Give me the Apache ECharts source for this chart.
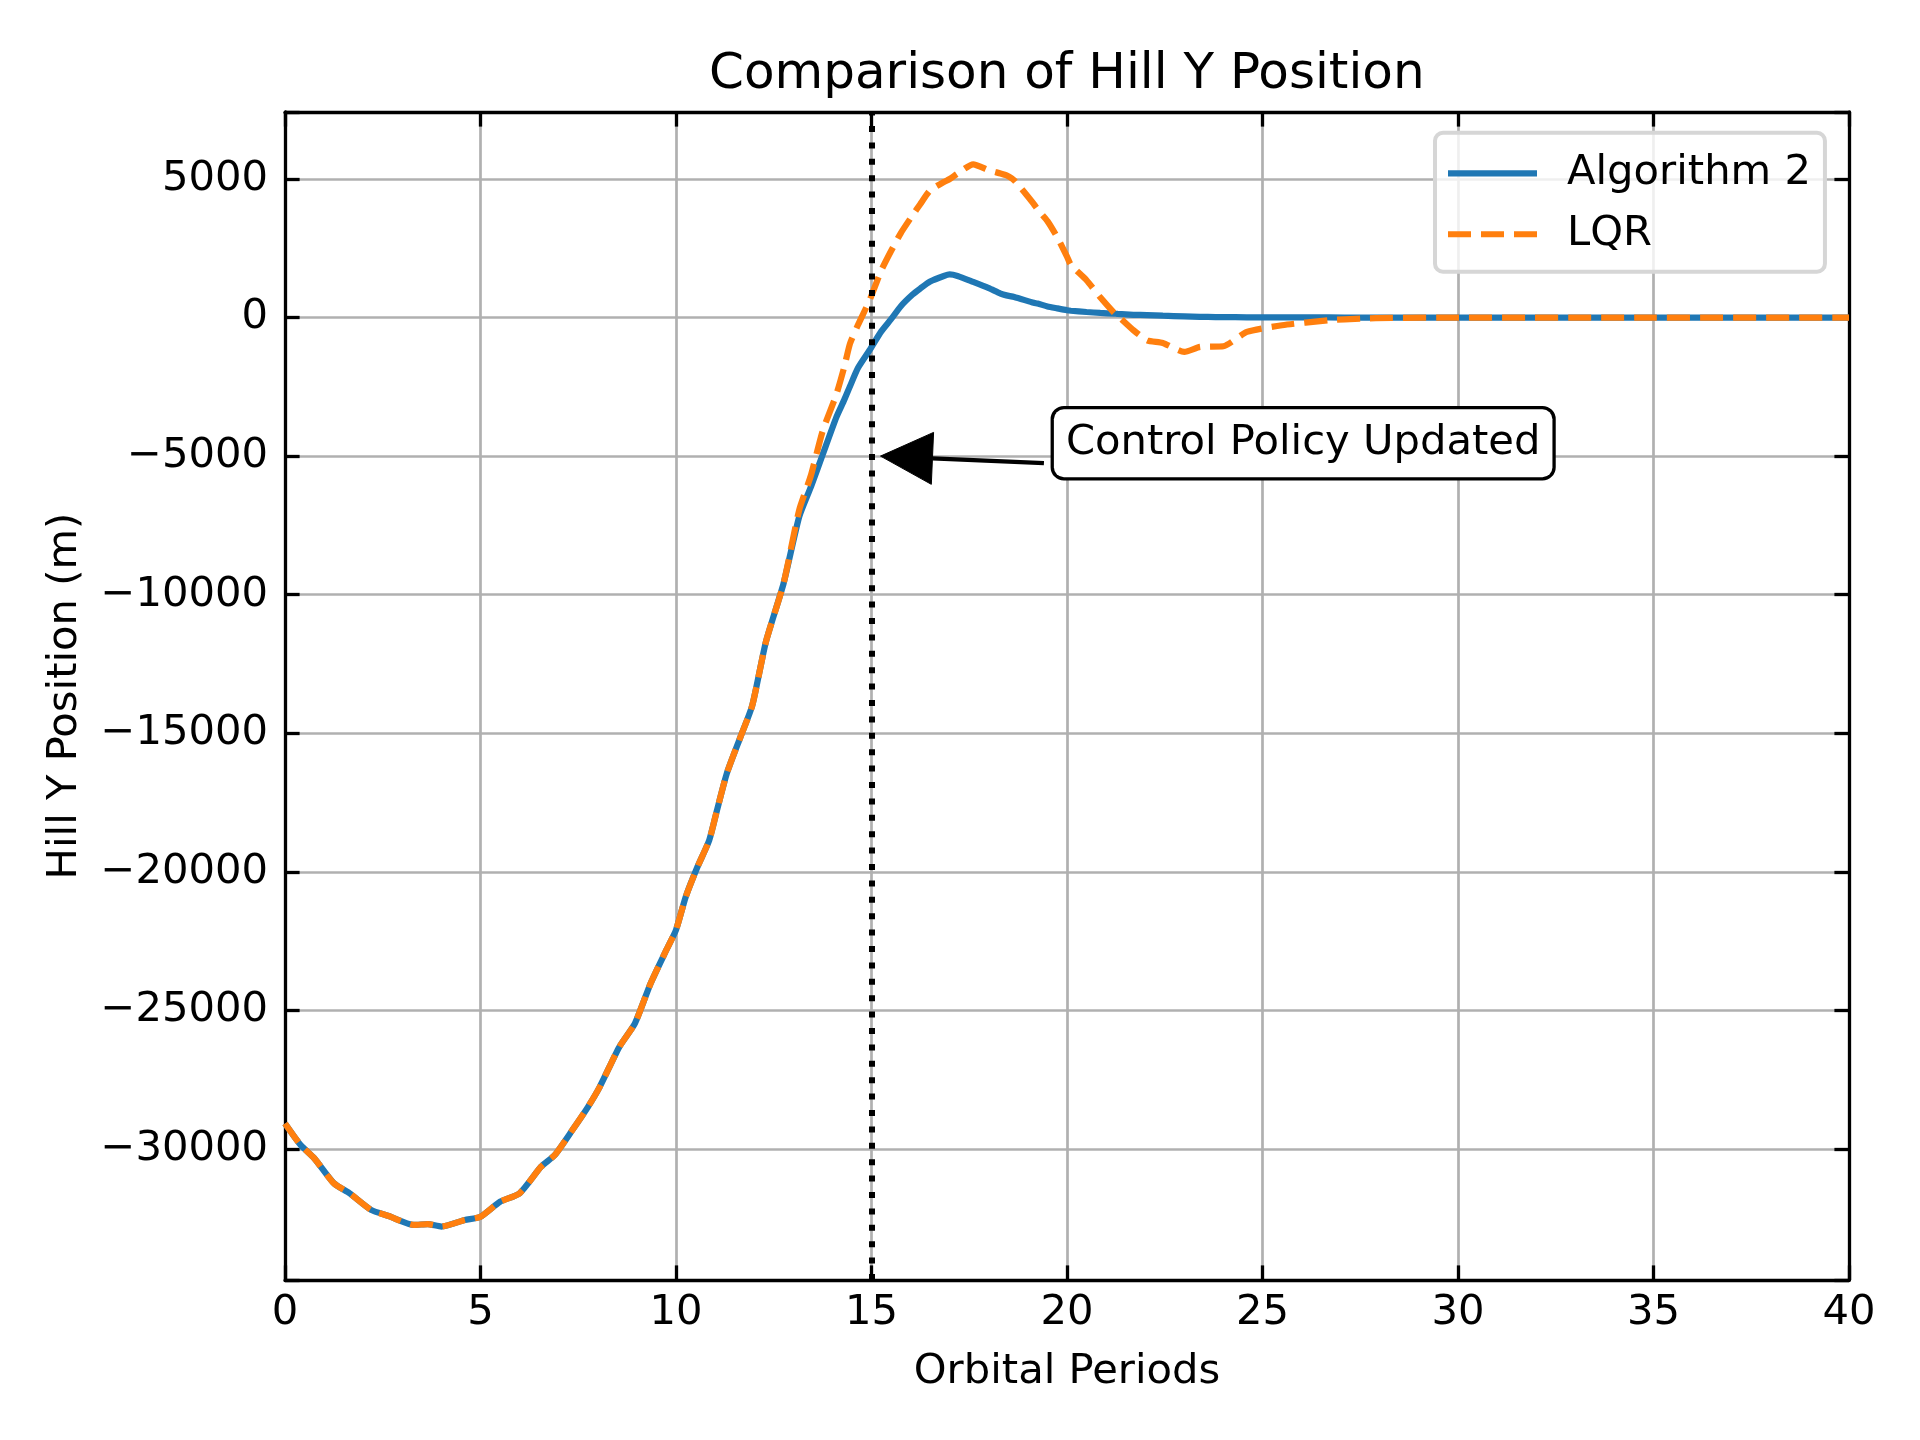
<!DOCTYPE html>
<html>
<head>
<meta charset="utf-8">
<script src="https://cdn.jsdelivr.net/npm/echarts@6/dist/echarts.min.js"></script>
<style>
  html, body { margin: 0; padding: 0; background: #fff; }
  #chart { width: 1920px; height: 1440px; }
</style>
</head>
<body>
<div id="chart"></div>
<script>
// orbital periods (x) shared by both runs
var periods = [0, 0.4, 0.75, 1.25, 1.65, 2.2, 2.65, 3.3, 3.65, 4.0,
  4.6, 5.0, 5.5, 6.0, 6.55, 6.9, 7.35, 7.75, 8.05, 8.55,
  8.95, 9.35, 9.75, 10.0, 10.25, 10.55, 10.85, 11.05, 11.3, 11.65,
  11.95, 12.3, 12.75, 13.15, 13.45, 13.75, 14.1, 14.3, 14.45, 14.65,
  14.95, 15.25, 15.5, 15.75, 16.05, 16.25, 16.5, 16.85, 17.0, 17.2,
  17.6, 18.0, 18.3, 18.45, 18.65, 19.15, 19.25, 19.5, 19.75, 20.0,
  20.1, 20.5, 20.85, 21.2, 21.3, 21.7, 22.05, 22.45, 23.0, 23.4,
  23.6, 24.0, 24.6, 25.5, 26.7, 27.5, 28.3, 30, 35, 40];

var alg2Y = [-29080, -29860, -30340, -31240, -31600, -32200, -32420, -32745, -32710, -32800,
  -32565, -32445, -31905, -31600, -30640, -30220, -29320, -28480, -27760, -26320,
  -25470, -24030, -22830, -22100, -20900, -19820, -18860, -17770, -16450, -15130,
  -14000, -11700, -9600, -7190, -6110, -4950, -3600, -2980, -2480, -1830,
  -1180, -500, -60, 410, 830, 1050, 1300, 1500, 1555, 1500,
  1284, 1060, 866, 800, 743, 530, 505, 400, 330, 263,
  245, 200, 165, 144, 130, 100, 85, 65, 40, 22,
  20, 15, 10, 5, 2, 0, 0, 0, 0, 0];

var lqrY = [-29080, -29860, -30340, -31240, -31600, -32200, -32420, -32745, -32710, -32800,
  -32565, -32445, -31905, -31600, -30640, -30220, -29320, -28480, -27760, -26320,
  -25470, -24030, -22830, -22100, -20900, -19820, -18860, -17770, -16450, -15130,
  -14000, -11700, -9600, -6950, -5700, -4100, -2780, -1800, -940, -280,
  620, 1700, 2400, 3050, 3690, 4100, 4590, 4890, 5000, 5195,
  5530, 5314, 5200, 5134, 4950, 4100, 3900, 3480, 2900, 2200,
  1900, 1346, 730, 180, 60, -458, -820, -916, -1241, -1060,
  -1050, -1035, -519, -278, -97, -40, -14, 0, 0, 0];

var seriesNames = ['Algorithm 2', 'LQR'];
var xRange = [0, 40];
var yRange = [-34730, 7417];
var policyUpdate = 15;

// annotation anchors in data units
var annTip = [15, -5000];
var annTail = [19.41, -5256];
var annText = [26.04, -4535];
var annLabel = 'Control Policy Updated';

var FONT = 'DejaVu Sans';
var FS = 41.7;

function pairs(xs, ys) {
  return xs.map(function (x, i) { return [x, ys[i]]; });
}

var chart = echarts.init(document.getElementById('chart'), null, { renderer: 'canvas' });

var tickStyle = { show: true, inside: true, length: 14.6, lineStyle: { color: '#000', width: 3.3 } };
var lineStyleAxis = { show: true, onZero: false, lineStyle: { color: '#000', width: 3.3 } };

chart.setOption({
  animation: false,
  backgroundColor: '#fff',
  title: {
    text: 'Comparison of Hill Y Position',
    left: 709,
    top: 50,
    padding: 0,
    textStyle: { fontFamily: FONT, fontSize: 50, fontWeight: 'normal', color: '#000', lineHeight: 50 }
  },
  grid: { left: 285, right: 71, top: 112, bottom: 160, containLabel: false },
  legend: {
    data: [
      { name: seriesNames[0], icon: 'rect' },
      { name: seriesNames[1], icon: 'path://M0,0h23v6h-23zM33,0h23v6h-23zM66,0h23v6h-23z' }
    ],
    orient: 'vertical',
    left: 1435,
    top: 132.7,
    padding: [15.6, 14, 12.4, 13],
    itemGap: 11,
    itemWidth: 89,
    itemHeight: 6.25,
    backgroundColor: 'rgba(255,255,255,0.8)',
    borderColor: '#d6d6d6',
    borderWidth: 4,
    borderRadius: 8,
    textStyle: { fontFamily: FONT, fontSize: FS, color: '#000', lineHeight: 50, padding: [0, 0, 0, 25] }
  },
  xAxis: [{
    type: 'value',
    min: xRange[0], max: xRange[1], interval: 5,
    name: 'Orbital Periods',
    nameLocation: 'middle',
    nameGap: 71,
    nameTextStyle: { fontFamily: FONT, fontSize: FS, color: '#000' },
    axisLine: lineStyleAxis,
    axisTick: tickStyle,
    axisLabel: { fontFamily: FONT, fontSize: FS, color: '#000', margin: 12 },
    splitLine: { show: true, lineStyle: { color: '#b0b0b0', width: 2.7 } }
  }, {
    type: 'value', position: 'top',
    min: xRange[0], max: xRange[1], interval: 5,
    axisLine: lineStyleAxis,
    axisTick: tickStyle,
    axisLabel: { show: false },
    splitLine: { show: false }
  }],
  yAxis: [{
    type: 'value',
    min: yRange[0], max: yRange[1], splitNumber: 8,
    name: 'Hill Y Position (m)',
    nameLocation: 'middle',
    nameGap: 199,
    nameRotate: 90,
    nameTextStyle: { fontFamily: FONT, fontSize: FS, color: '#000' },
    axisLine: lineStyleAxis,
    axisTick: tickStyle,
    axisLabel: {
      fontFamily: FONT, fontSize: FS, color: '#000', margin: 17,
      formatter: function (v) {
        if (Math.abs(v % 5000) > 1e-6) return '';
        return String(v).replace('-', '\u2212');
      }
    },
    splitLine: { show: true, lineStyle: { color: '#b0b0b0', width: 2.7 } }
  }, {
    type: 'value', position: 'right',
    min: yRange[0], max: yRange[1], splitNumber: 8,
    axisLine: lineStyleAxis,
    axisTick: tickStyle,
    axisLabel: { show: false },
    splitLine: { show: false }
  }],
  series: [{
    name: seriesNames[0],
    type: 'line',
    symbol: 'none',
    smooth: 0.2,
    data: pairs(periods, alg2Y),
    lineStyle: { color: '#1f77b4', width: 6.25 },
    itemStyle: { color: '#1f77b4' },
    markLine: {
      silent: true,
      symbol: 'none',
      label: { show: false },
      lineStyle: { color: '#000', width: 6, type: [6, 10.4] },
      data: [{ xAxis: policyUpdate }]
    }
  }, {
    name: seriesNames[1],
    type: 'line',
    symbol: 'none',
    smooth: 0.2,
    data: pairs(periods, lqrY),
    lineStyle: { color: '#ff7f0e', width: 6.25, type: [23, 10] },
    itemStyle: { color: '#ff7f0e' }
  }]
});

// arrow + boxed label, placed through the grid's own scales
var tip = chart.convertToPixel({ gridIndex: 0 }, annTip);
var tail = chart.convertToPixel({ gridIndex: 0 }, annTail);
var lab = chart.convertToPixel({ gridIndex: 0 }, annText);
var dx = tip[0] + 9 - tail[0], dy = tip[1] - tail[1];
var len = Math.sqrt(dx * dx + dy * dy);
var ux = dx / len, uy = dy / len;
var headTip = [tip[0] + 9, tip[1]];
var base = [headTip[0] - ux * 52, headTip[1] - uy * 52];
var nx = -uy, ny = ux;

chart.setOption({
  graphic: [{
    type: 'polyline',
    z: 100,
    shape: { points: [tail, base] },
    style: { stroke: '#000', lineWidth: 4.2, fill: null }
  }, {
    type: 'polygon',
    z: 100,
    shape: { points: [headTip, [base[0] + nx * 26, base[1] + ny * 26], [base[0] - nx * 26, base[1] - ny * 26]] },
    style: { fill: '#000', stroke: '#000', lineWidth: 1 }
  }, {
    type: 'text',
    z: 101,
    x: lab[0],
    y: lab[1],
    style: {
      text: annLabel,
      fontFamily: FONT,
      fontSize: FS,
      fill: '#000',
      align: 'center',
      verticalAlign: 'middle',
      lineHeight: 42,
      backgroundColor: '#fff',
      borderColor: '#000',
      borderWidth: 3.3,
      borderRadius: 10,
      padding: [13, 12]
    }
  }]
});
</script>
</body>
</html>
